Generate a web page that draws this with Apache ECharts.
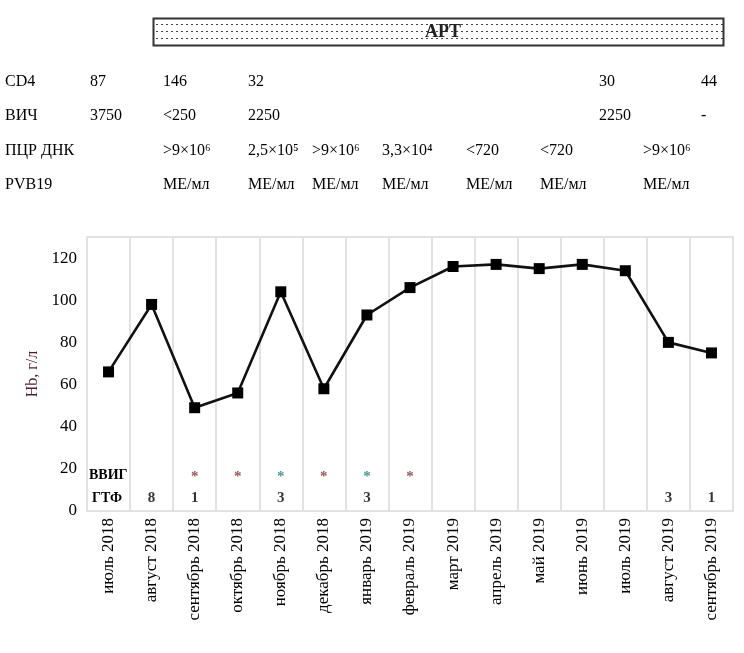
<!DOCTYPE html>
<html><head><meta charset="utf-8">
<script src="https://cdn.jsdelivr.net/npm/echarts@6/dist/echarts.min.js"></script>
<style>html,body{margin:0;padding:0;background:#fff}#c{width:744px;height:653px}</style>
</head><body><div id="c"></div>
<script>
var months = ['июль 2018','август 2018','сентябрь 2018','октябрь 2018','ноябрь 2018','декабрь 2018','январь 2019','февраль 2019','март 2019','апрель 2019','май 2019','июнь 2019','июль 2019','август 2019','сентябрь 2019'];
var hb = [66, 98, 49, 56, 104, 58, 93, 106, 116, 117, 115, 117, 114, 80, 75];
var gtf = ['', '8', '1', '', '3', '', '3', '', '', '', '', '', '', '3', '1'];
var vvig = ['', '', 'a', 'a', 'b', 'a', 'b', 'a', '', '', '', '', '', '', ''];
var yTicks = [0, 20, 40, 60, 80, 100, 120];
var tableRowLabels = ['CD4', 'ВИЧ', 'ПЦР ДНК', 'PVB19'];
var cd4Row = ['87', '146', '32', '', '', '', '', '30', '', '44'];
var hivRow = ['3750', '<250', '2250', '', '', '', '', '2250', '', '-'];
var pcrRow = ['', '>9×10⁶', '2,5×10⁵', '>9×10⁶', '3,3×10⁴', '<720', '<720', '', '>9×10⁶', ''];
var pvbRow = ['', 'МЕ/мл', 'МЕ/мл', 'МЕ/мл', 'МЕ/мл', 'МЕ/мл', 'МЕ/мл', '', 'МЕ/мл', ''];
var artLabel = 'АРТ';

// layout (not data)
var colX = [90, 163, 248, 312, 382, 466, 540, 599, 643, 701];
var rowY = [82, 116, 151, 185];
var FONT = '"Liberation Serif", "Times New Roman", serif';

var pat = document.createElement('canvas');
pat.width = 5; pat.height = 7;
var pc = pat.getContext('2d');
pc.fillStyle = '#fff'; pc.fillRect(0,0,5,7);
pc.fillStyle = '#444'; pc.fillRect(1,3,2,1);

var graphics = [];
graphics.push({type:'rect', shape:{x:153.5, y:18.5, width:570, height:27}, style:{fill:{image:pat, repeat:'repeat'}, stroke:'#333', lineWidth:2}, z:10});
graphics.push({type:'text', x:443, y:32, style:{text:artLabel, font:'bold 18px '+FONT, fill:'#222', align:'center', verticalAlign:'middle'}, z:11});
var rows = [cd4Row, hivRow, pcrRow, pvbRow];
for (var r = 0; r < 4; r++) {
  graphics.push({type:'text', x:5, y:rowY[r], style:{text:tableRowLabels[r], font:'16px '+FONT, fill:'#000', verticalAlign:'middle'}});
  for (var c = 0; c < colX.length; c++) {
    if (rows[r][c]) graphics.push({type:'text', x:colX[c], y:rowY[r], style:{text:rows[r][c], font:'16px '+FONT, fill:'#000', verticalAlign:'middle'}});
  }
}
graphics.push({type:'text', x:89, y:475, style:{text:'ВВИГ', font:'bold 14px '+FONT, fill:'#000', verticalAlign:'middle'}});
graphics.push({type:'text', x:92, y:498, style:{text:'ГТФ', font:'bold 14px '+FONT, fill:'#000', verticalAlign:'middle'}});

var gtfData = [], vvigData = [];
for (var i = 0; i < months.length; i++) {
  if (gtf[i]) gtfData.push({value:[i, 6.3], label:{formatter:gtf[i]}});
  if (vvig[i]) vvigData.push({value:[i, 16.2], label:{formatter:'*', color: vvig[i] === 'a' ? '#7a2a2a' : '#1f7a7a'}});
}

var chart = echarts.init(document.getElementById('c'));
chart.setOption({
  animation:false,
  grid:{left:87, right:11, top:237, bottom:142, show:true, borderColor:'#e2e2e2', borderWidth:2},
  xAxis:{type:'category', data:months, boundaryGap:true,
    axisLine:{show:false}, axisTick:{show:false},
    axisLabel:{rotate:90, interval:0, fontFamily:FONT, fontSize:17, color:'#000', margin:7},
    splitLine:{show:true, interval:0, lineStyle:{color:'#e2e2e2', width:2}}},
  yAxis:{type:'value', min:0, max:130, interval:20, showMaxLabel:false,
    axisLine:{show:false}, axisTick:{show:false}, splitLine:{show:false},
    axisLabel:{fontFamily:FONT, fontSize:17, color:'#000', margin:10,
      formatter:function(v){return yTicks.indexOf(v) >= 0 ? String(v) : '';}},
    name:'Hb, г/л', nameLocation:'middle', nameGap:44,
    nameTextStyle:{fontFamily:FONT, fontSize:16, color:'#4a1f2e'}},
  graphic:graphics,
  series:[
    {type:'line', data:hb, symbol:'rect', symbolSize:11, lineStyle:{color:'#111', width:2.6}, itemStyle:{color:'#000'}, z:5},
    {type:'scatter', data:gtfData, symbolSize:0, label:{show:true, position:'inside', fontFamily:FONT, fontWeight:'bold', fontSize:15, color:'#000'}},
    {type:'scatter', data:vvigData, symbolSize:0, label:{show:true, position:'inside', fontFamily:FONT, fontWeight:'bold', fontSize:15}}
  ]
});
</script></body></html>
